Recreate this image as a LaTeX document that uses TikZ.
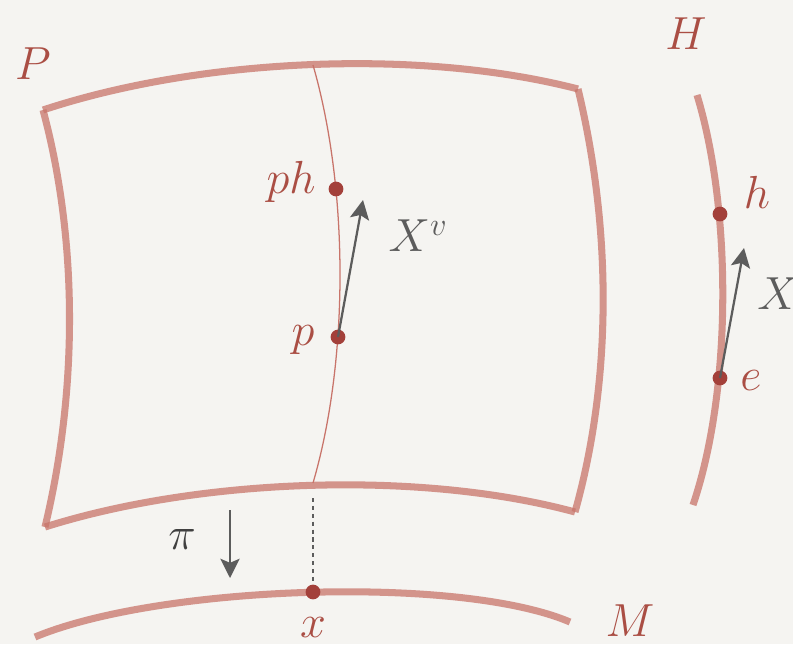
\RequirePackage{fix-cm}
\documentclass[tikz,border=0pt]{standalone}
\usetikzlibrary{arrows.meta}
\definecolor{paper}{RGB}{245,244,241}
\definecolor{rim}{RGB}{200,116,106}
\definecolor{dotred}{RGB}{163,64,58}
\definecolor{labred}{RGB}{170,78,68}
\definecolor{arrgray}{RGB}{92,92,92}
\tikzset{
  rimline/.style={rim, opacity=0.75, line width=5pt},
  fibre/.style={rim, line width=0.9pt},
  pt/.style={circle, fill=dotred, inner sep=0pt, minimum size=10.5pt},
  lab/.style={labred, font=\fontsize{33}{35}\selectfont},
  vec/.style={arrgray, line width=1.6pt, -{Stealth[length=4.8mm, width=4.8mm, inset=1mm]}},
  veclab/.style={arrgray, font=\fontsize{33}{35}\selectfont}
}
\begin{document}
\begin{tikzpicture}[x=0.025cm, y=-0.025cm]
\useasboundingbox (0,0) rectangle (793,644);
\fill[paper] (0,0) rectangle (793,644);
% total space P, four sides drawn one by one
\draw[rimline] (43,110) .. controls (200,58) and (420,48) .. (578,89);
\draw[rimline] (578,89) .. controls (612,230) and (612,380) .. (575,512);
\draw[rimline] (575,512) .. controls (420,470) and (200,478) .. (45,527);
\draw[rimline] (45,527) .. controls (78,390) and (78,240) .. (43,110);
\node[lab] (Plab) at (33,64) {$P$};
% the fibre through p
\draw[fibre] (313,65) .. controls (349,190) and (349,360) .. (313,483);
\node[pt] (ph) at (336,189) {};
\node[pt] (p) at (338,337) {};
\node[lab] (phlab) at (291,182) {$ph$};
\node[lab] (plab) at (303,340) {$p$};
\coordinate (pv) at (363,200);
\draw[vec] (p.center) -- (pv);
\node[veclab] (Xvlab) at (418,236) {$X^v$};
% the group H
\draw[rimline] (697,95) .. controls (732,210) and (732,390) .. (693,505);
\node[lab] (Hlab) at (686,34) {$H$};
\node[pt] (h) at (720,214) {};
\node[pt] (e) at (720,378) {};
\node[lab] (hlab) at (757,192) {$h$};
\node[lab] (elab) at (751,381) {$e$};
\coordinate (ev) at (744,248);
\draw[vec] (e.center) -- (ev);
\node[veclab] (Xlab) at (778,294) {$X$};
% base M and the projection
\draw[rimline] (35,637) .. controls (160,585) and (460,575) .. (570,622);
\node[lab] (Mlab) at (630,621) {$M$};
\node[pt] (x) at (313,592) {};
\node[lab] (xlab) at (313,627) {$x$};
\coordinate (xtop) at (313,498);
\draw[arrgray, line width=1.6pt, dash pattern=on 3pt off 2.6pt] (xtop) -- (x);
\coordinate (pitop) at (230,510);
\coordinate (pibot) at (230,578);
\draw[vec] (pitop) -- (pibot);
\node[veclab, black!75] (pilab) at (182,540) {$\pi$};
\end{tikzpicture}
\end{document}
